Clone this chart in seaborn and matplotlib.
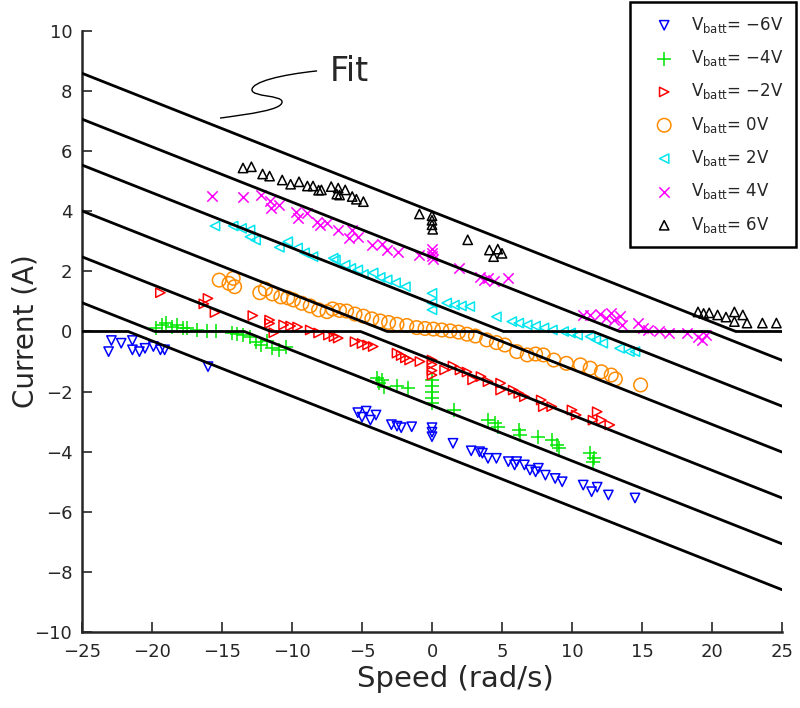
import numpy as np
import seaborn as sns
import matplotlib.pyplot as plt
from matplotlib.path import Path
from matplotlib.patches import PathPatch

# Battery voltage for each measured series
volts = [-6, -4, -2, 0, 2, 4, 6]
colors = ['#0000ff', '#00e600', '#ff0000', '#ff8c00', '#00e5ee', '#ff00ff', '#000000']
markers = ['v', '+', '>', 'o', '<', 'x', '^']
msizes = [45, 110, 45, 95, 45, 55, 45]

speed_n6 = [-23.1, -22.9, -22.2, -21.4, -21.4, -20.9, -20.5, -19.9, -19.4, -19.1, -16.0,
            -5.3, -5.0, -4.7, -4.4, -4.0, -2.9, -2.5, -2.2, -1.45, 0.0, 0.0, 0.0, 1.5,
            2.8, 3.4, 3.6, 4.0, 4.6, 5.45, 5.9, 6.05, 6.6, 7.0, 7.4, 7.6, 8.1, 8.8, 9.3,
            10.8, 11.4, 11.8, 12.6, 14.5]
cur_n6 = [-0.67, -0.30, -0.39, -0.30, -0.61, -0.67, -0.56, -0.50, -0.61, -0.61, -1.17,
          -2.70, -2.85, -2.65, -2.95, -2.78, -3.10, -3.15, -3.20, -3.17, -3.20, -3.35, -3.50, -3.72,
          -3.97, -4.00, -4.05, -4.22, -4.22, -4.33, -4.44, -4.33, -4.44, -4.61, -4.67, -4.55, -4.78, -4.89, -5.00,
          -5.11, -5.33, -5.18, -5.44, -5.54]

speed_n4 = [-19.7, -19.3, -19.0, -18.6, -18.2, -17.8, -17.5, -16.8, -16.1, -15.4, -14.3,
            -13.9, -13.5, -13.0, -12.6, -12.2, -11.8, -11.4, -10.9, -10.4, -3.95, -3.8,
            -3.6, -3.4, -2.5, -1.7, 0.0, 0.0, 0.0, 0.0, 0.0, 1.6, 4.0, 4.5, 4.7, 6.2, 6.3,
            7.6, 8.55, 8.9, 9.1, 11.3, 11.6, 11.5]
cur_n4 = [0.10, 0.20, 0.27, 0.15, 0.22, 0.12, 0.10, 0.05, 0.02, 0.02, -0.04,
          -0.08, -0.12, -0.20, -0.35, -0.45, -0.30, -0.55, -0.62, -0.50, -1.55, -1.70,
          -1.62, -1.84, -1.81, -1.89, -1.61, -1.80, -2.00, -2.20, -2.39, -2.61, -2.95, -3.06, -3.17, -3.28, -3.44,
          -3.50, -3.61, -3.78, -3.89, -4.05, -4.22, -4.33]

speed_n2 = [-19.4, -16.3, -16.0, -15.5, -12.8, -11.6, -11.6, -11.3, -10.6, -10.1, -9.6,
            -8.7, -8.1, -7.4, -7.0, -6.7, -5.5, -5.0, -4.6, -4.2, -2.5, -2.2, -1.9, -1.6,
            -0.86, 0.0, 0.0, 0.0, 0.0, 0.9, 1.5, 2.0, 2.5, 2.9, 3.5, 4.0, 4.9, 4.9, 5.8,
            6.2, 6.6, 7.8, 7.95, 8.55, 10.0, 10.3, 11.5, 11.8, 12.1, 12.7]
cur_n2 = [1.29, 0.92, 1.10, 0.63, 0.53, 0.38, 0.27, -0.04, 0.22, 0.18, 0.15,
          0.05, -0.05, -0.12, -0.17, -0.22, -0.34, -0.40, -0.45, -0.50, -0.72, -0.80, -0.88, -0.95,
          -1.00, -0.95, -1.10, -1.30, -1.45, -1.28, -1.15, -1.28, -1.35, -1.61, -1.50, -1.67, -1.72, -1.95, -1.95,
          -2.06, -2.17, -2.28, -2.50, -2.50, -2.61, -2.78, -2.95, -2.67, -2.95, -3.11]

speed_0 = [-15.2, -14.5, -14.2, -14.1, -12.3, -11.9, -11.4, -10.8, -10.3, -9.9, -9.3,
           -8.7, -8.1, -7.5, -7.1, -6.6, -6.1, -5.5, -4.9, -4.3, -3.7, -3.1, -2.5, -1.8,
           -1.1, -0.5, 0.1, 0.7, 1.3, 1.9, 2.5, 3.1, 3.9, 4.6, 5.2, 6.05, 6.8, 7.4, 7.95,
           8.7, 9.6, 10.6, 11.3, 12.1, 12.8, 13.1, 14.9]
cur_0 = [1.71, 1.60, 1.77, 1.49, 1.29, 1.41, 1.25, 1.15, 1.12, 1.05, 0.94,
         0.85, 0.72, 0.66, 0.75, 0.70, 0.68, 0.58, 0.51, 0.42, 0.35, 0.30, 0.24, 0.20,
         0.13, 0.10, 0.08, 0.05, 0.02, -0.02, -0.09, -0.15, -0.28, -0.37, -0.45, -0.67, -0.78, -0.75, -0.78,
         -0.95, -1.06, -1.11, -1.22, -1.34, -1.45, -1.58, -1.78]

speed_p2 = [-15.5, -14.2, -13.6, -13.0, -13.0, -12.6, -10.9, -10.3, -9.6, -9.1, -8.5,
            -7.05, -6.9, -6.2, -5.8, -5.3, -4.9, -4.2, -3.7, -3.2, -2.6, -1.9, 0.0, 0.0,
            0.0, 1.05, 1.6, 2.1, 2.7, 4.6, 5.7, 6.2, 6.8, 7.4, 8.0, 8.6, 9.4, 9.9, 10.4,
            11.3, 11.7, 12.2, 13.4, 14.1, 14.5]
cur_p2 = [3.51, 3.51, 3.43, 3.38, 3.15, 3.04, 2.80, 2.99, 2.78, 2.62, 2.49,
          2.44, 2.38, 2.21, 2.10, 2.05, 1.90, 1.95, 1.80, 1.72, 1.62, 1.49, 1.27, 0.95,
          0.72, 0.95, 0.88, 0.85, 0.83, 0.49, 0.33, 0.28, 0.22, 0.18, 0.12, 0.05, 0.00, -0.05, -0.12,
          -0.17, -0.28, -0.39, -0.56, -0.67, -0.67]

speed_p4 = [-15.7, -13.5, -12.2, -11.6, -11.5, -10.9, -9.7, -9.6, -8.9, -8.2, -8.0,
            -7.5, -6.7, -5.7, -5.9, -5.3, -4.3, -3.6, -3.2, -2.4, -0.9, 0.0, 0.0, 0.0,
            0.05, 1.9, 3.4, 3.7, 4.0, 4.4, 5.45, 10.8, 11.3, 12.0, 12.4, 12.8, 13.0, 13.4,
            13.55, 14.7, 15.1, 15.45, 16.2, 16.9, 18.2, 19.0, 19.3, 19.6]
cur_p4 = [4.50, 4.47, 4.54, 4.35, 4.10, 4.20, 3.99, 3.78, 3.94, 3.65, 3.54,
          3.60, 3.38, 3.38, 3.10, 3.15, 2.88, 2.91, 2.71, 2.66, 2.55, 2.75, 2.62, 2.50,
          2.40, 2.10, 1.80, 1.72, 1.78, 1.68, 1.77, 0.55, 0.55, 0.58, 0.45, 0.60, 0.38, 0.50,
          0.22, 0.27, 0.10, 0.05, 0.00, -0.06, -0.06, -0.17, -0.28, -0.12]

speed_p6 = [-13.5, -12.9, -12.1, -11.6, -10.7, -10.1, -9.5, -8.9, -8.5, -8.1, -7.9,
            -7.2, -6.8, -6.7, -6.6, -6.2, -5.7, -5.4, -4.9, -0.9, 0.0, 0.0, 0.0, 0.05,
            2.55, 4.1, 4.4, 4.7, 5.0, 19.0, 19.4, 19.8, 20.4, 21.0, 21.6, 21.6, 22.2, 22.5,
            23.6, 24.6]
cur_p6 = [5.44, 5.48, 5.24, 5.17, 5.04, 4.90, 4.98, 4.84, 4.84, 4.70, 4.71,
          4.82, 4.57, 4.77, 4.54, 4.71, 4.49, 4.40, 4.32, 3.91, 3.85, 3.70, 3.55, 3.40,
          3.05, 2.71, 2.49, 2.74, 2.60, 0.65, 0.60, 0.62, 0.55, 0.48, 0.65, 0.33, 0.55, 0.28,
          0.28, 0.28]

speeds = [speed_n6, speed_n4, speed_n2, speed_0, speed_p2, speed_p4, speed_p6]
currents = [cur_n6, cur_n4, cur_n2, cur_0, cur_p2, cur_p4, cur_p6]

# Fitted motor model: back-emf constant, winding resistance, dead band
kt = 0.241
r_motor = 1.31
v_dead = 0.77

sns.set_style('ticks')
plt.rcParams['font.family'] = ['DejaVu Sans']
plt.rcParams['mathtext.fontset'] = 'dejavusans'

fig = plt.figure(figsize=(8, 7.08), dpi=100)
ax = fig.add_axes([0.1025, 0.1073, 0.875, 0.849])

# Scatter of measurements
for v, xs, ys, c, m, s in zip(volts, speeds, currents, colors, markers, msizes):
    lab = r'$\mathregular{V_{batt}}$= ' + f'{v}V'.replace('-', '\u2212')
    if m in ('+', 'x'):
        sns.scatterplot(x=xs, y=ys, marker=m, color=c, s=s, linewidth=1.1, ax=ax, label=lab)
    else:
        sns.scatterplot(x=xs, y=ys, marker=m, color=c, facecolor='none', edgecolor=c,
                        s=s, linewidth=1.1, ax=ax, label=lab)

# Fit lines
w = np.linspace(-25, 25, 1001)
for v in volts:
    u = v - kt * w
    i_fit = np.where(u > v_dead, (u - v_dead) / r_motor,
                     np.where(u < -v_dead, (u + v_dead) / r_motor, 0.0))
    ax.plot(w, i_fit, color='k', lw=2.0, zorder=3)

ax.set_xlim(-25, 25)
ax.set_ylim(-10, 10)
ax.set_xticks(np.arange(-25, 26, 5))
ax.set_yticks(np.arange(-10, 11, 2))
ax.tick_params(direction='in', length=7, width=1.2, labelsize=13)
ax.tick_params(axis='x', pad=8)
ax.tick_params(axis='y', pad=7)
for side in ['top', 'right']:
    ax.spines[side].set_visible(False)
for side in ['left', 'bottom']:
    ax.spines[side].set_linewidth(1.8)

ax.set_xlabel('Speed (rad/s)', fontsize=21)
ax.set_ylabel('Current (A)', fontsize=20)
ax.xaxis.set_label_coords(0.533, -0.055)
ax.yaxis.set_label_coords(-0.061, 0.5)

# "Fit" callout with a squiggle
ax.text(-7.3, 8.35, 'Fit', fontsize=24, ha='left', va='baseline')
verts = [(-8.21, 8.67),
         (-10.86, 8.54), (-12.86, 8.30), (-12.86, 8.04),
         (-12.86, 7.80), (-10.71, 7.87), (-10.71, 7.64),
         (-10.71, 7.37), (-13.0, 7.24), (-15.14, 7.10)]
codes = [Path.MOVETO] + [Path.CURVE4] * 9
ax.add_patch(PathPatch(Path(verts, codes), facecolor='none', edgecolor='k', lw=1.0))

leg = ax.legend(loc='upper right', bbox_to_anchor=(0.995, 0.997), bbox_transform=fig.transFigure,
                borderaxespad=0, fontsize=12, frameon=True, fancybox=False, framealpha=1,
                edgecolor='k', borderpad=0.75, handlelength=2.6, handletextpad=0.3,
                labelspacing=0.8)
leg.get_frame().set_linewidth(1.8)

fig.savefig('out.png', dpi=100)
